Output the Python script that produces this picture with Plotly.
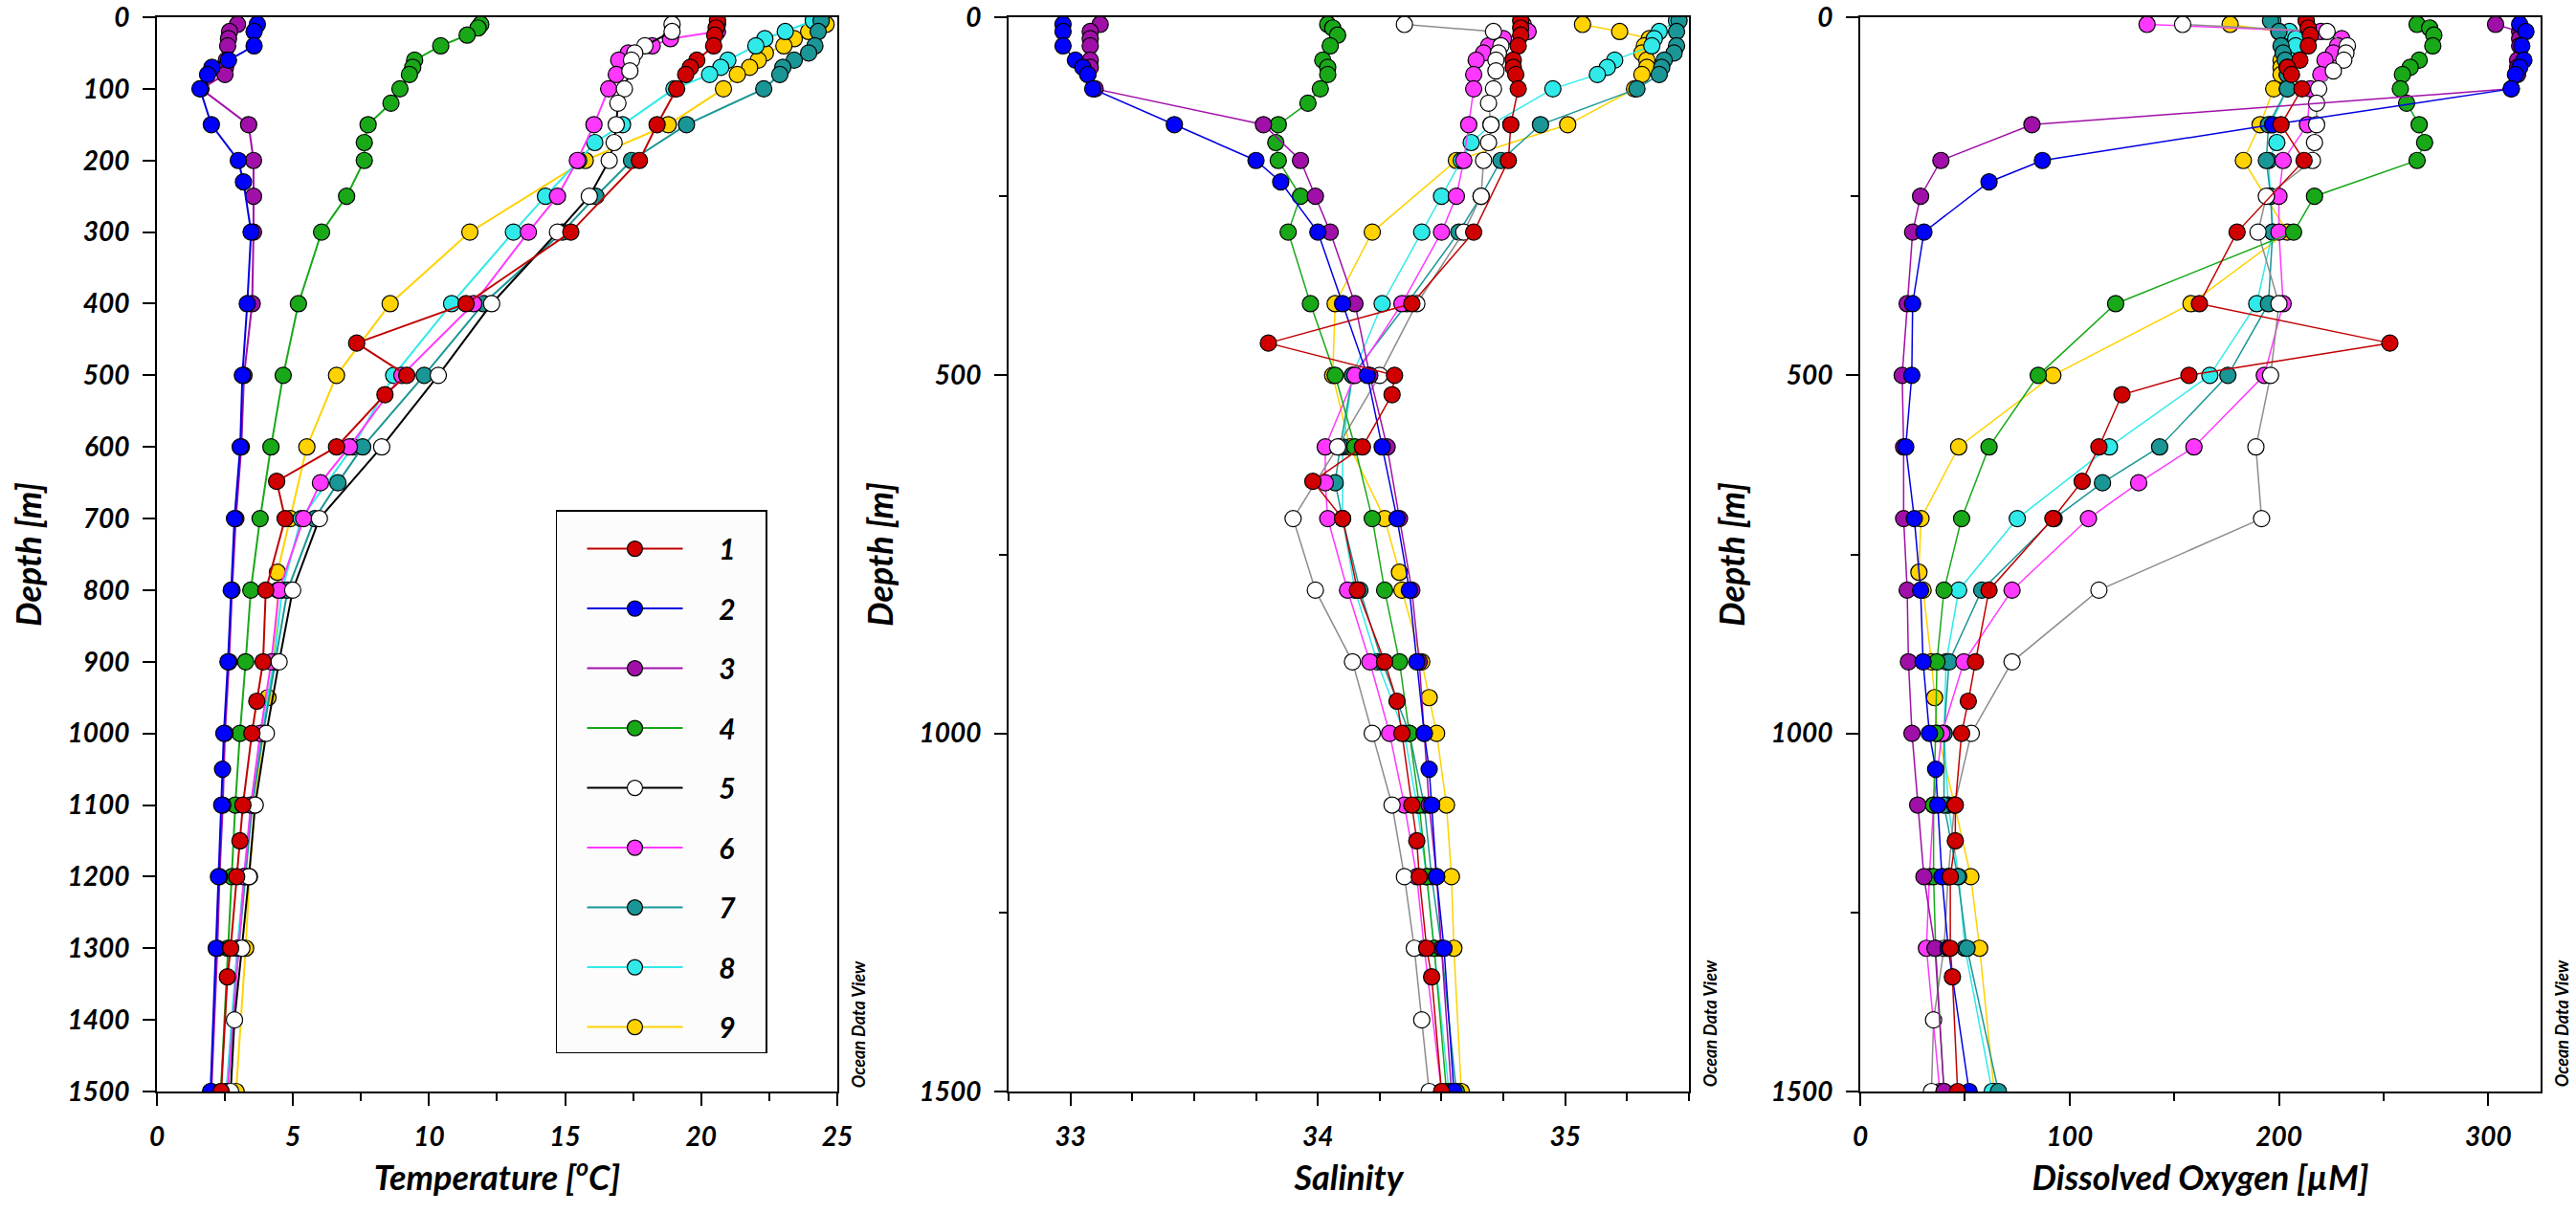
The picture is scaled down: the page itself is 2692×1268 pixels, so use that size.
import plotly.graph_objects as go

# station profiles: depth [m], temperature [degC], salinity, oxygen [uM]
depth_1 = [5, 15, 25, 40, 60, 70, 80, 100, 150, 200, 300, 400, 455, 500, 527, 600, 648, 700, 800, 900, 955, 1000, 1100, 1150, 1200, 1300, 1340, 1500]
temp_1 = [20.6, 20.55, 20.5, 20.46, 19.84, 19.6, 19.43, 19.1, 18.38, 17.73, 15.21, 11.36, 7.34, 9.18, 8.38, 6.6, 4.4, 4.71, 4.0, 3.9, 3.67, 3.49, 3.16, 3.05, 2.93, 2.71, 2.59, 2.36]
sal_1 = [34.82, 34.82, 34.82, 34.81, 34.79, 34.79, 34.8, 34.81, 34.78, 34.77, 34.63, 34.38, 33.8, 34.31, 34.3, 34.18, 33.98, 34.1, 34.16, 34.27, 34.32, 34.34, 34.38, 34.4, 34.41, 34.44, 34.46, 34.5]
oxy_1 = [213, 214, 215, 214, 210, 204, 206, 211, 201, 212, 180, 162, 253, 157, 125, 114, 106, 92, 61.5, 55, 51.6, 48.4, 45.4, 45.4, 43, 43, 44, 46.5]

depth_2 = [10, 20, 40, 60, 70, 80, 100, 150, 200, 230, 300, 400, 500, 600, 700, 800, 900, 1000, 1050, 1100, 1200, 1300, 1500]
temp_2 = [3.69, 3.57, 3.57, 2.63, 2.02, 1.86, 1.58, 2.0, 2.99, 3.18, 3.46, 3.32, 3.14, 3.06, 2.85, 2.73, 2.61, 2.46, 2.41, 2.38, 2.26, 2.18, 1.97]
sal_2 = [32.97, 32.97, 32.97, 33.02, 33.05, 33.07, 33.09, 33.42, 33.75, 33.85, 34.0, 34.1, 34.2, 34.26, 34.32, 34.37, 34.40, 34.43, 34.45, 34.46, 34.48, 34.51, 34.55]
oxy_2 = [315, 318, 316, 317, 315, 313, 311, 197, 87, 61.5, 30.4, 25, 24.6, 21.7, 25.8, 28.8, 30, 33, 36, 37, 39, 42, 52]

depth_3 = [10, 20, 30, 40, 60, 70, 80, 100, 150, 200, 250, 300, 400, 500, 600, 700, 800, 900, 1000, 1100, 1200, 1300, 1500]
temp_3 = [2.96, 2.67, 2.63, 2.6, 2.55, 2.52, 2.5, 1.62, 3.37, 3.55, 3.55, 3.55, 3.5, 3.2, 3.1, 2.9, 2.76, 2.65, 2.5, 2.42, 2.3, 2.22, 2.0]
sal_3 = [33.12, 33.08, 33.08, 33.08, 33.08, 33.08, 33.07, 33.1, 33.78, 33.93, 33.99, 34.05, 34.15, 34.21, 34.28, 34.33, 34.38, 34.41, 34.43, 34.45, 34.48, 34.5, 34.54]
oxy_3 = [303.5, 315, 315, 315, 314, 314, 314, 311, 82, 38.5, 28.8, 25, 22.4, 20, 20.7, 20.7, 22.4, 23, 24.7, 27.4, 30.4, 35.7, 40]

depth_4 = [10, 15, 25, 40, 60, 70, 80, 100, 120, 150, 175, 200, 250, 300, 400, 500, 600, 700, 800, 900, 1000, 1100, 1200, 1300, 1500]
temp_4 = [11.9, 11.8, 11.4, 10.43, 9.47, 9.4, 9.28, 8.93, 8.6, 7.76, 7.62, 7.62, 6.97, 6.05, 5.2, 4.64, 4.19, 3.79, 3.45, 3.26, 3.05, 2.88, 2.75, 2.6, 2.35]
sal_4 = [34.04, 34.06, 34.08, 34.05, 34.02, 34.04, 34.04, 34.01, 33.96, 33.84, 33.83, 33.84, 33.93, 33.88, 33.97, 34.07, 34.15, 34.22, 34.27, 34.33, 34.37, 34.41, 34.44, 34.47, 34.52]
oxy_4 = [266, 272, 274, 273.5, 267, 262.7, 259, 258, 261, 267, 269.6, 266, 217, 207, 122, 85, 61.5, 48.4, 40, 36.6, 36, 35, 35, 36, 40]

depth_5 = [10, 20, 40, 50, 60, 75, 100, 120, 150, 175, 200, 250, 300, 400, 500, 600, 700, 800, 900, 1000, 1100, 1200, 1300, 1400, 1500]
temp_5 = [18.93, 18.93, 17.93, 17.56, 17.44, 17.38, 17.18, 16.94, 16.88, 16.8, 16.62, 15.89, 14.72, 12.3, 10.34, 8.26, 5.97, 4.99, 4.49, 4.02, 3.61, 3.38, 3.12, 2.85, 2.71]
sal_5 = [34.35, 34.71, 34.74, 34.73, 34.72, 34.72, 34.71, 34.69, 34.7, 34.69, 34.67, 34.66, 34.59, 34.4, 34.25, 34.08, 33.9, 33.99, 34.14, 34.22, 34.3, 34.35, 34.39, 34.42, 34.45]
oxy_5 = [154, 223, 232.7, 232, 231, 226, 219, 218, 218, 217, 216, 194, 190, 200, 196, 189, 191.7, 114, 72.5, 53, 45, 42, 40, 35, 34]

depth_6 = [10, 20, 30, 40, 50, 60, 80, 100, 150, 200, 250, 300, 400, 500, 600, 650, 700, 800, 900, 1000, 1100, 1200, 1300, 1500]
temp_6 = [20.6, 20.6, 18.87, 18.2, 17.32, 16.97, 16.88, 16.6, 16.06, 15.45, 14.72, 13.65, 11.64, 9.0, 7.07, 6.01, 5.39, 4.49, 4.2, 3.8, 3.45, 3.2, 3.0, 2.6]
sal_6 = [34.83, 34.85, 34.75, 34.69, 34.67, 34.64, 34.63, 34.63, 34.61, 34.59, 34.56, 34.5, 34.34, 34.15, 34.03, 34.03, 34.04, 34.12, 34.21, 34.29, 34.35, 34.4, 34.43, 34.5]
oxy_6 = [137, 220, 230, 228, 226, 222, 220, 215, 213.6, 202, 200, 200, 202, 193, 159.4, 133, 109, 72.5, 49.5, 39, 35, 33, 31.6, 38]

depth_7 = [5, 20, 40, 50, 60, 70, 80, 100, 150, 200, 250, 300, 400, 500, 600, 650, 700, 800, 900, 1000, 1100, 1200, 1300, 1500]
temp_7 = [24.41, 24.3, 24.18, 23.95, 23.42, 23.0, 22.89, 22.3, 19.46, 17.44, 16.13, 14.9, 12.0, 9.82, 7.56, 6.65, 5.8, 4.8, 4.35, 3.9, 3.5, 3.25, 3.0, 2.6]
sal_7 = [35.46, 35.45, 35.45, 35.44, 35.4, 35.39, 35.38, 35.29, 34.9, 34.74, 34.66, 34.57, 34.36, 34.14, 34.09, 34.07, 34.1, 34.17, 34.26, 34.37, 34.43, 34.46, 34.5, 34.56]
oxy_7 = [196, 200, 201, 202, 203, 204, 204, 204, 195, 194, 196, 197, 195, 175.6, 143, 115.7, 92.6, 58, 42.4, 40, 40, 46.5, 51, 66]

depth_8 = [5, 20, 30, 40, 60, 70, 80, 100, 150, 175, 200, 250, 300, 400, 500, 600, 700, 800, 900, 1000, 1100, 1200, 1300, 1500]
temp_8 = [24.12, 23.09, 22.34, 22.01, 20.98, 20.72, 20.31, 19.0, 17.11, 16.09, 15.5, 14.28, 13.1, 10.83, 8.7, 7.2, 5.3, 4.6, 4.3, 3.85, 3.5, 3.2, 2.95, 2.55]
sal_8 = [35.45, 35.38, 35.36, 35.35, 35.2, 35.17, 35.13, 34.95, 34.7, 34.62, 34.58, 34.5, 34.42, 34.26, 34.14, 34.1, 34.1, 34.15, 34.24, 34.35, 34.4, 34.44, 34.47, 34.53]
oxy_8 = [197, 205, 208, 208, 205, 204, 204, 204, 196, 199, 195, 196, 197, 189.4, 167, 119, 75, 47, 41, 40, 42, 47, 50, 63]

depth_9 = [10, 20, 30, 40, 50, 60, 70, 80, 100, 150, 200, 300, 400, 500, 600, 700, 775, 800, 900, 950, 1000, 1100, 1200, 1300, 1500]
temp_9 = [24.59, 23.95, 23.42, 23.04, 22.36, 22.1, 21.78, 21.33, 20.82, 18.79, 15.74, 11.5, 8.57, 6.6, 5.51, 4.9, 4.43, 4.45, 4.3, 4.08, 3.9, 3.6, 3.4, 3.26, 2.91]
sal_9 = [35.07, 35.22, 35.34, 35.32, 35.31, 35.33, 35.33, 35.31, 35.28, 35.01, 34.56, 34.22, 34.07, 34.06, 34.13, 34.27, 34.33, 34.34, 34.42, 34.45, 34.48, 34.52, 34.54, 34.55, 34.58]
oxy_9 = [176.7, 200, 203, 203, 202, 201, 201, 201, 197.5, 191, 183, 204, 158, 92, 47, 29, 28, 30, 34, 35.5, 37, 45, 52.8, 57, 64]

station_names = ["1", "2", "3", "4", "5", "6", "7", "8", "9"]
depths = [depth_1, depth_2, depth_3, depth_4, depth_5, depth_6, depth_7, depth_8, depth_9]
temps = [temp_1, temp_2, temp_3, temp_4, temp_5, temp_6, temp_7, temp_8, temp_9]
sals = [sal_1, sal_2, sal_3, sal_4, sal_5, sal_6, sal_7, sal_8, sal_9]
oxys = [oxy_1, oxy_2, oxy_3, oxy_4, oxy_5, oxy_6, oxy_7, oxy_8, oxy_9]

marker_colors = ["#d00000", "#0000ff", "#a010a8", "#18a818", "#ffffff",
                 "#ff38ff", "#1a9696", "#30eaea", "#ffd200"]
line_colors = ["#c00000", "#0000e0", "#a010a8", "#18a818", "#000000",
               "#ff38ff", "#1a9696", "#30eaea", "#ffd200"]

FONT = "Lato"
tick_font = dict(family=FONT, size=28, color="black", weight="bold", style="italic")
title_font = dict(family=FONT, size=36, color="black", weight="bold", style="italic")

fig = go.Figure()

panels = [("x", "y", temps, 2), ("x2", "y2", sals, 1.5), ("x3", "y3", oxys, 1.5)]
for p, (xa, ya, values, lw) in enumerate(panels):
    # draw station 9 first so station 1 ends up on top
    for i in reversed(range(9)):
        lc = line_colors[i]
        if i == 4 and p > 0:
            lc = "#8c8c8c"
        fig.add_trace(go.Scatter(
            x=values[i], y=depths[i],
            xaxis=xa, yaxis=ya,
            mode="lines+markers",
            # padded so the number sits right of the symbol and the box is as wide as the original
            name="\u00a0" * 5 + station_names[i] + "\u00a0" * 4,
            legendgroup=station_names[i],
            legendrank=i + 1,
            showlegend=(p == 0),
            line=dict(color=lc, width=lw),
            marker=dict(size=17, color=marker_colors[i],
                        line=dict(color="black", width=1.2)),
        ))

common_axis = dict(
    showline=True, linecolor="black", linewidth=2, mirror=True,
    ticks="outside", ticklen=13, tickwidth=2, tickcolor="black",
    showgrid=False, zeroline=False, tickfont=tick_font,
    ticklabelstandoff=8, ticklabeloverflow="allow", automargin=False,
)

def y_axis(anchor, dtick, minor=None):
    ax = dict(common_axis, anchor=anchor, domain=[0, 1], range=[1500, 0],
              tick0=0, dtick=dtick,
              title=dict(text="Depth [m]", font=title_font, standoff=16))
    if minor:
        ax["minor"] = dict(dtick=minor, tick0=0, ticks="outside", ticklen=8,
                           tickwidth=1.5, tickcolor="black", showgrid=False)
    return ax

def x_axis(anchor, domain, rng, tick0, dtick, minor, title):
    return dict(common_axis, anchor=anchor, domain=domain, range=rng,
                tick0=tick0, dtick=dtick,
                minor=dict(dtick=minor, tick0=tick0, ticks="outside", ticklen=8,
                           tickwidth=1.5, tickcolor="black", showgrid=False),
                title=dict(text=title, font=title_font, standoff=16))

fig.update_layout(
    template="none",
    width=2692, height=1268,
    margin=dict(l=164, r=37, t=18, b=127, autoexpand=False),
    paper_bgcolor="white", plot_bgcolor="white",
    xaxis=x_axis("y", [0, 0.2854], [0, 25], 0, 5, 2.5, "Temperature [<sup>o</sup>C]"),
    yaxis=y_axis("x", 100),
    xaxis2=x_axis("y2", [0.3573, 0.6427], [32.75, 35.5], 33, 1, 0.25, "Salinity"),
    yaxis2=y_axis("x2", 500, 250),
    xaxis3=x_axis("y3", [0.7146, 1.0], [0, 325], 0, 100, 50, "Dissolved Oxygen [µM]"),
    yaxis3=y_axis("x3", 500, 250),
    showlegend=True,
    legend=dict(
        x=0.1674, y=0.5413, xanchor="left", yanchor="top",
        bgcolor="#fcfcfc", bordercolor="black", borderwidth=1.5,
        font=dict(family=FONT, size=30, color="black", weight="bold", style="italic"),
        itemwidth=100, tracegroupgap=20.5, traceorder="grouped", indentation=26,
        # blank title only adds the extra top padding the original box has
        title=dict(text="\u00a0", font=dict(family=FONT, size=10)),
    ),
)

for xa, ya in [("x", "y"), ("x2", "y2"), ("x3", "y3")]:
    fig.add_annotation(
        text="Ocean Data View", textangle=-90,
        xref=xa + " domain", yref=ya + " domain", x=1.031, y=0.002,
        xanchor="center", yanchor="bottom", showarrow=False,
        font=dict(family=FONT, size=18, color="black", weight="bold", style="italic"),
    )

# drop the browser's default 8px page margin so the figure sits at the corner
fig.write_html("out.html", config={"displayModeBar": False},
               post_script="document.body.style.margin = '0';")
